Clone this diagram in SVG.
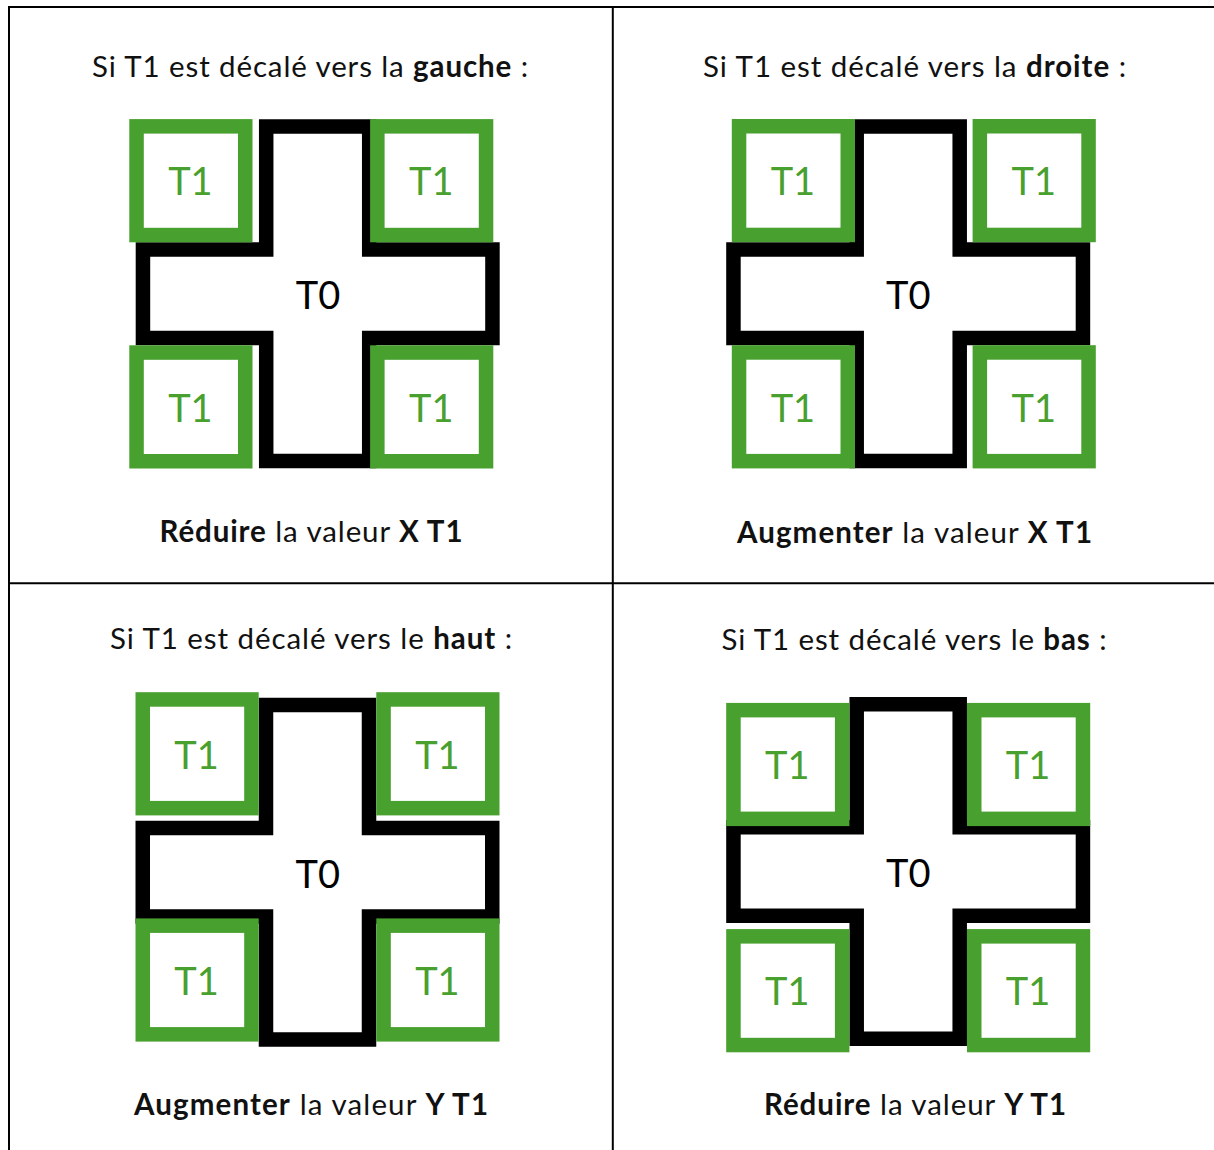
<svg xmlns="http://www.w3.org/2000/svg" xmlns:xlink="http://www.w3.org/1999/xlink" width="1214" height="1150" viewBox="0 0 1214 1150">
<style>
.frame{stroke:#000;stroke-width:2;fill:none}
.cross{fill:#fff;stroke:#000;stroke-width:14.5;stroke-linejoin:miter}
.sq{fill:#fff;stroke:#48A02E;stroke-width:14.5}
.t1{font-family:Lato,"Open Sans",sans-serif;font-size:38px;fill:#48A02E;text-anchor:middle}
.t0{font-family:Lato,"Open Sans",sans-serif;font-size:38px;fill:#000;text-anchor:middle}
.cap{font-family:Lato,"Open Sans",sans-serif;font-size:29.5px;fill:#111;text-anchor:middle}
.b{font-weight:bold}
</style>
<defs>
<path id="crossShape" d="M-51.5,-167.3 H51.5 V-44.3 H174.75 V44.3 H51.5 V167.3 H-51.5 V44.3 H-174.75 V-44.3 H-51.5 Z"/>
</defs>
<rect width="1214" height="1150" fill="#fff"/>
<g id="frame">
<line class="frame" x1="9" y1="7" x2="1214" y2="7"/>
<line class="frame" x1="9" y1="6" x2="9" y2="1150"/>
<line class="frame" x1="612.8" y1="7" x2="612.8" y2="1150"/>
<line class="frame" x1="9" y1="583.3" x2="1214" y2="583.3"/>
</g>
<g id="connectors"></g>

<!-- Panel 1 : gauche -->
<g id="panel-gauche">
<text class="cap" x="310" y="77" textLength="436">Si T1 est décalé vers la <tspan class="b">gauche</tspan> :</text>
<g id="p1-T0"><use href="#crossShape" class="cross" x="317.7" y="293.8"/><text class="t0" x="318" y="309.3">T0</text></g>
<g id="p1-T1-tl"><rect class="sq" x="136.55" y="126.35" width="108.7" height="108.7"/><text class="t1" x="190.4" y="195.4">T1</text></g>
<g id="p1-T1-tr"><rect class="sq" x="377.35" y="126.35" width="108.7" height="108.7"/><text class="t1" x="431.2" y="195.4">T1</text></g>
<g id="p1-T1-bl"><rect class="sq" x="136.55" y="352.55" width="108.7" height="108.7"/><text class="t1" x="190.4" y="421.6">T1</text></g>
<g id="p1-T1-br"><rect class="sq" x="377.35" y="352.55" width="108.7" height="108.7"/><text class="t1" x="431.2" y="421.6">T1</text></g>
<text class="cap" x="311" y="542" textLength="303"><tspan class="b">Réduire</tspan> la valeur <tspan class="b">X T1</tspan></text>
</g>

<!-- Panel 2 : droite -->
<g id="panel-droite">
<text class="cap" x="914.5" y="77" textLength="423">Si T1 est décalé vers la <tspan class="b">droite</tspan> :</text>
<g id="p2-T0"><use href="#crossShape" class="cross" x="908.2" y="293.7"/><text class="t0" x="908.2" y="309.2">T0</text></g>
<g id="p2-T1-tl"><rect class="sq" x="739.05" y="126.25" width="108.7" height="108.7"/><text class="t1" x="792.9" y="195.3">T1</text></g>
<g id="p2-T1-tr"><rect class="sq" x="979.85" y="126.25" width="108.7" height="108.7"/><text class="t1" x="1033.7" y="195.3">T1</text></g>
<g id="p2-T1-bl"><rect class="sq" x="739.05" y="352.45" width="108.7" height="108.7"/><text class="t1" x="792.9" y="421.5">T1</text></g>
<g id="p2-T1-br"><rect class="sq" x="979.85" y="352.45" width="108.7" height="108.7"/><text class="t1" x="1033.7" y="421.5">T1</text></g>
<text class="cap" x="914.5" y="543" textLength="355"><tspan class="b">Augmenter</tspan> la valeur <tspan class="b">X T1</tspan></text>
</g>

<!-- Panel 3 : haut -->
<g id="panel-haut">
<text class="cap" x="311" y="649" textLength="402">Si T1 est décalé vers le <tspan class="b">haut</tspan> :</text>
<g id="p3-T0"><use href="#crossShape" class="cross" x="317.5" y="872.2"/><text class="t0" x="317.8" y="887.7">T0</text></g>
<g id="p3-T1-tl"><rect class="sq" x="142.75" y="699.45" width="108.7" height="108.7"/><text class="t1" x="196.6" y="768.5">T1</text></g>
<g id="p3-T1-tr"><rect class="sq" x="383.55" y="699.45" width="108.7" height="108.7"/><text class="t1" x="437.4" y="768.5">T1</text></g>
<g id="p3-T1-bl"><rect class="sq" x="142.75" y="925.65" width="108.7" height="108.7"/><text class="t1" x="196.6" y="994.7">T1</text></g>
<g id="p3-T1-br"><rect class="sq" x="383.55" y="925.65" width="108.7" height="108.7"/><text class="t1" x="437.4" y="994.7">T1</text></g>
<text class="cap" x="311" y="1115" textLength="354"><tspan class="b">Augmenter</tspan> la valeur <tspan class="b">Y T1</tspan></text>
</g>

<!-- Panel 4 : bas -->
<g id="panel-bas">
<text class="cap" x="914" y="650" textLength="385">Si T1 est décalé vers le <tspan class="b">bas</tspan> :</text>
<g id="p4-T0"><use href="#crossShape" class="cross" x="908.2" y="871.5"/><text class="t0" x="908.2" y="887">T0</text></g>
<g id="p4-T1-tl"><rect class="sq" x="733.45" y="710.15" width="108.7" height="108.7"/><text class="t1" x="787.3" y="779.2">T1</text></g>
<g id="p4-T1-tr"><rect class="sq" x="974.25" y="710.15" width="108.7" height="108.7"/><text class="t1" x="1028.1" y="779.2">T1</text></g>
<g id="p4-T1-bl"><rect class="sq" x="733.45" y="936.35" width="108.7" height="108.7"/><text class="t1" x="787.3" y="1005.4">T1</text></g>
<g id="p4-T1-br"><rect class="sq" x="974.25" y="936.35" width="108.7" height="108.7"/><text class="t1" x="1028.1" y="1005.4">T1</text></g>
<text class="cap" x="915" y="1115" textLength="302"><tspan class="b">Réduire</tspan> la valeur <tspan class="b">Y T1</tspan></text>
</g>
</svg>
